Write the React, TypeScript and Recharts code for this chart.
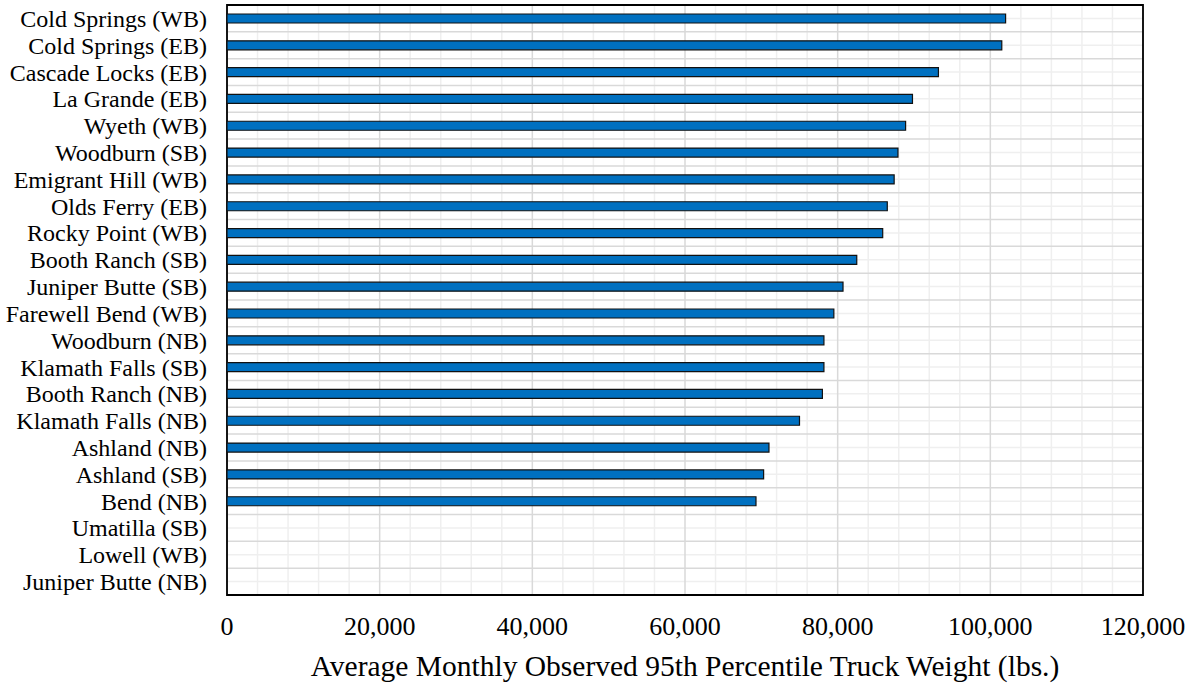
import { BarChart, Bar, XAxis, YAxis, CartesianGrid, ReferenceArea } from 'recharts'

const STATIONS = [
  'Cold Springs (WB)',
  'Cold Springs (EB)',
  'Cascade Locks (EB)',
  'La Grande (EB)',
  'Wyeth (WB)',
  'Woodburn (SB)',
  'Emigrant Hill (WB)',
  'Olds Ferry (EB)',
  'Rocky Point (WB)',
  'Booth Ranch (SB)',
  'Juniper Butte (SB)',
  'Farewell Bend (WB)',
  'Woodburn (NB)',
  'Klamath Falls (SB)',
  'Booth Ranch (NB)',
  'Klamath Falls (NB)',
  'Ashland (NB)',
  'Ashland (SB)',
  'Bend (NB)',
  'Umatilla (SB)',
  'Lowell (WB)',
  'Juniper Butte (NB)',
]

const WEIGHTS = [
  102000, 101500, 93200, 89800, 88900, 87900, 87400, 86500, 85900, 82500, 80700,
  79500, 78200, 78200, 78000, 75000, 71000, 70300, 69300, 0, 0, 0,
]

const X_TICKS = [0, 20000, 40000, 60000, 80000, 100000, 120000]
const X_MINOR = [
  4000, 8000, 12000, 16000, 24000, 28000, 32000, 36000, 44000, 48000, 52000, 56000,
  64000, 68000, 72000, 76000, 84000, 88000, 92000, 96000, 104000, 108000, 112000, 116000,
]
const X_MAX = 120000

const AXIS_TITLE = 'Average Monthly Observed 95th Percentile Truck Weight (lbs.)'

const data = STATIONS.map((name, i) => ({ name, value: WEIGHTS[i] }))

const FONT = '"Liberation Serif", "Times New Roman", serif'

// excel-style grid: major lines between categories, minor through the middle
const rowLines = (mid: boolean) => ({ offset }: any) => {
  const step = offset.height / STATIONS.length
  const out: number[] = []
  for (let i = 0; i <= STATIONS.length; i++) {
    const y = offset.top + i * step + (mid ? step / 2 : 0)
    if (y <= offset.top + offset.height) out.push(y)
  }
  return out
}

const colLines = (vals: number[]) => ({ offset }: any) =>
  vals.map((v) => offset.left + (v / X_MAX) * offset.width)

export default function App() {
  return (
    <div style={{ position: 'absolute', left: 0, top: 0 }}>
      <BarChart
        width={1196}
        height={689}
        data={data}
        layout="vertical"
        margin={{ top: 5, right: 53, bottom: 0, left: 0 }}
        style={{ fontFamily: FONT }}
      >
        <CartesianGrid
          stroke="#efefef"
          strokeWidth={1.5}
          horizontalCoordinatesGenerator={rowLines(true)}
          verticalCoordinatesGenerator={colLines(X_MINOR)}
        />
        <CartesianGrid
          stroke="#d9d9d9"
          strokeWidth={1.5}
          horizontalCoordinatesGenerator={rowLines(false)}
          verticalCoordinatesGenerator={colLines(X_TICKS)}
        />
        <XAxis
          type="number"
          domain={[0, X_MAX]}
          ticks={X_TICKS}
          height={94}
          axisLine={false}
          tickLine={false}
          tickSize={0}
          tickMargin={22}
          tick={{ fill: '#000', fontSize: 26, fontFamily: FONT }}
          tickFormatter={(v: number) => v.toLocaleString('en-US')}
          label={{ value: AXIS_TITLE, position: 'insideBottom', offset: 13, fill: '#000', fontSize: 29.5, fontFamily: FONT }}
        />
        <YAxis
          type="category"
          dataKey="name"
          width={227}
          interval={0}
          axisLine={false}
          tickLine={false}
          tickSize={0}
          tickMargin={20}
          tick={{ fill: '#000', fontSize: 24, fontFamily: FONT }}
        />
        <Bar dataKey="value" fill="#0070c0" stroke="#111" strokeWidth={1.2} barSize={9} isAnimationActive={false} />
        <ReferenceArea x1={0} x2={X_MAX} fill="none" stroke="#000" strokeWidth={1.8} ifOverflow="visible" />
      </BarChart>
    </div>
  )
}
